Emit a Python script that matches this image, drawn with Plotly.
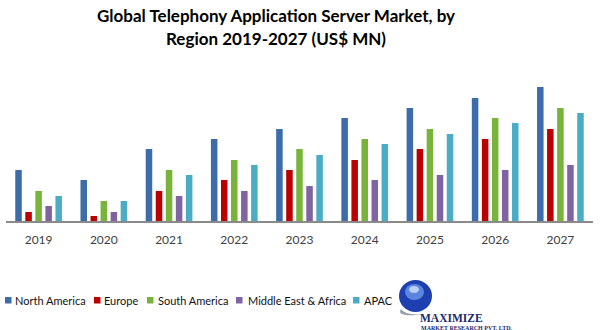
import plotly.graph_objects as go

years = ["2019", "2020", "2021", "2022", "2023", "2024", "2025", "2026", "2027"]
north_america = [51, 41, 72, 82, 92, 103, 113, 123, 134]
europe = [9, 5, 30, 41, 51, 61, 72, 82, 92]
south_america = [30, 20, 51, 61, 72, 82, 92, 103, 113]
mea = [15, 9, 25, 30, 35, 41, 46, 51, 56]
apac = [25, 20, 46, 56, 66, 77, 87, 98, 108]

series = [
    ("North America", north_america, "#3C6DAA"),
    ("Europe", europe, "#BC0000"),
    ("South America", south_america, "#78B43A"),
    ("Middle East & Africa", mea, "#8064A2"),
    ("APAC", apac, "#4BACC6"),
]

W, H = 602, 330
L, R, T, B = 6, 9, 71, 109
PW = W - L - R
PH = H - T - B

def px(x):
    return (x - L) / PW

def py(y):
    return (H - B - y) / PH

fig = go.Figure()
for name, vals, col in series:
    fig.add_trace(go.Bar(x=years, y=vals, name=name, marker=dict(color=col, line=dict(width=0)),
                         showlegend=False))

shapes = []
annotations = []

# title (two lines)
for txt, yy in [("Global Telephony Application Server Market, by", 16),
                ("Region 2019-2027 (US$ MN)", 39)]:
    annotations.append(dict(text=f"<b>{txt}</b>", xref="paper", yref="paper", x=px(276), y=py(yy),
                            xanchor="center", yanchor="middle", showarrow=False,
                            font=dict(family="Lato", size=17, color="#000000")))

# custom legend
leg = [(5, 13), (94, 102), (147, 156), (236, 246), (353, 362)]
for (sx, tx), (name, vals, col) in zip(leg, series):
    shapes.append(dict(type="rect", xref="paper", yref="paper", x0=px(sx), x1=px(sx + 6.5),
                       y0=py(303.5), y1=py(297), fillcolor=col, line=dict(width=0)))
    annotations.append(dict(text=name, xref="paper", yref="paper", x=px(tx), y=py(300.5),
                            xanchor="left", yanchor="middle", showarrow=False,
                            font=dict(family="Lato", size=11, color="#111111")))

# logo
shapes.append(dict(type="path", xref="paper", yref="paper",
                   path=f"M {px(401)},{py(309)} Q {px(395)},{py(318)} {px(425)},{py(314)} Q {px(405)},{py(316)} {px(401)},{py(309)} Z",
                   fillcolor="#9aa3ad", line=dict(width=0)))
shapes.append(dict(type="circle", xref="paper", yref="paper", x0=px(399), x1=px(432),
                   y0=py(312), y1=py(280), fillcolor="#1d3fb0", line=dict(width=0)))
shapes.append(dict(type="circle", xref="paper", yref="paper", x0=px(405), x1=px(424),
                   y0=py(300), y1=py(284), fillcolor="#5a86e0", line=dict(width=0)))
shapes.append(dict(type="circle", xref="paper", yref="paper", x0=px(409), x1=px(419),
                   y0=py(293), y1=py(286), fillcolor="#b9cff5", line=dict(width=0)))
annotations.append(dict(text="<b>MAXIMIZE</b>", xref="paper", yref="paper", x=px(451), y=py(318),
                        xanchor="center", yanchor="middle", showarrow=False,
                        font=dict(family="Liberation Serif", size=11.5, color="#1c2a6b")))
annotations.append(dict(text="<b>MARKET RESEARCH PVT. LTD.</b>", xref="paper", yref="paper", x=px(467), y=py(327.5),
                        xanchor="center", yanchor="middle", showarrow=False,
                        font=dict(family="Liberation Serif", size=6, color="#1c2a6b")))

fig.update_layout(
    width=W, height=H,
    margin=dict(l=L, r=R, t=T, b=B),
    paper_bgcolor="white", plot_bgcolor="white",
    barmode="group", bargap=0.23, bargroupgap=0.35,
    xaxis=dict(showline=True, linecolor="#8a8a8a", linewidth=1.5, showgrid=False, ticks="",
               ticklabelstandoff=7,
               tickfont=dict(family="Lato", size=12, color="#404040")),
    yaxis=dict(visible=False, range=[0, PH]),
    shapes=shapes, annotations=annotations,
)

fig.write_html("out.html")
